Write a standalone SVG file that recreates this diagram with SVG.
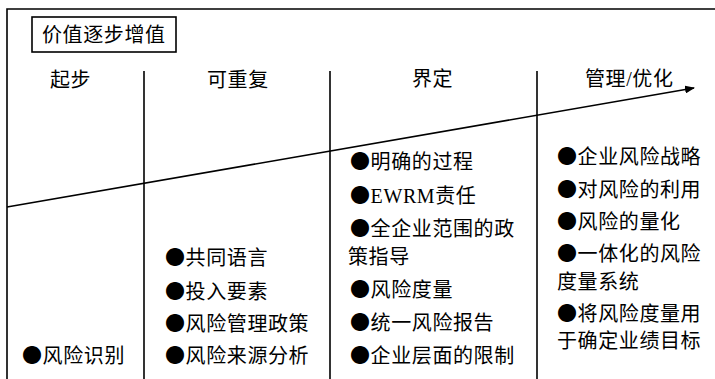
<svg xmlns="http://www.w3.org/2000/svg" width="715" height="379" viewBox="0 0 715 379">
<style>
text{font-family:"Liberation Serif","Noto Sans CJK SC",serif;font-size:20px;fill:#000;letter-spacing:0.6px}
.b{font-family:"Noto Sans CJK SC",sans-serif}
.ln{stroke:#000;stroke-width:1.6;fill:none}
</style>
<defs>
<marker id="ah" markerWidth="10" markerHeight="8" refX="9" refY="4" orient="auto" markerUnits="userSpaceOnUse">
<path d="M0,0 L10,4 L0,8 Z" fill="#000"/>
</marker>
</defs>
<rect width="715" height="379" fill="#fff"/>
<g id="frame">
<path class="ln" d="M7,379 V9 H715"/>
</g>
<g id="connectors">
<line class="ln" x1="144" y1="71" x2="144" y2="379"/>
<line class="ln" x1="330" y1="71" x2="330" y2="379"/>
<line class="ln" x1="537" y1="71" x2="537" y2="379"/>
<line class="ln" x1="7" y1="207" x2="694" y2="88" marker-end="url(#ah)"/>
</g>
<g id="title">
<rect x="32" y="17" width="144" height="35" fill="none" stroke="#000" stroke-width="1.6"/>
<text x="42" y="42">价值逐步增值</text>
</g>
<g id="col1">
<text x="50" y="87">起步</text>
<text x="22" y="363"><tspan class="b">●</tspan>风险识别</text>
</g>
<g id="col2">
<text x="207" y="87">可重复</text>
<text x="165" y="265"><tspan class="b">●</tspan>共同语言</text>
<text x="165" y="299"><tspan class="b">●</tspan>投入要素</text>
<text x="165" y="331"><tspan class="b">●</tspan>风险管理政策</text>
<text x="165" y="363"><tspan class="b">●</tspan>风险来源分析</text>
</g>
<g id="col3">
<text x="412" y="86">界定</text>
<text x="350" y="169"><tspan class="b">●</tspan>明确的过程</text>
<text x="350" y="203"><tspan class="b">●</tspan>EWRM责任</text>
<text x="350" y="236"><tspan class="b">●</tspan>全企业范围的政</text>
<text x="348" y="264">策指导</text>
<text x="350" y="297"><tspan class="b">●</tspan>风险度量</text>
<text x="350" y="330"><tspan class="b">●</tspan>统一风险报告</text>
<text x="350" y="363"><tspan class="b">●</tspan>企业层面的限制</text>
</g>
<g id="col4">
<text x="585" y="86">管理/优化</text>
<text x="557" y="164"><tspan class="b">●</tspan>企业风险战略</text>
<text x="557" y="197"><tspan class="b">●</tspan>对风险的利用</text>
<text x="557" y="229"><tspan class="b">●</tspan>风险的量化</text>
<text x="557" y="261"><tspan class="b">●</tspan>一体化的风险</text>
<text x="557" y="289">度量系统</text>
<text x="557" y="321"><tspan class="b">●</tspan>将风险度量用</text>
<text x="557" y="348">于确定业绩目标</text>
</g>
</svg>
